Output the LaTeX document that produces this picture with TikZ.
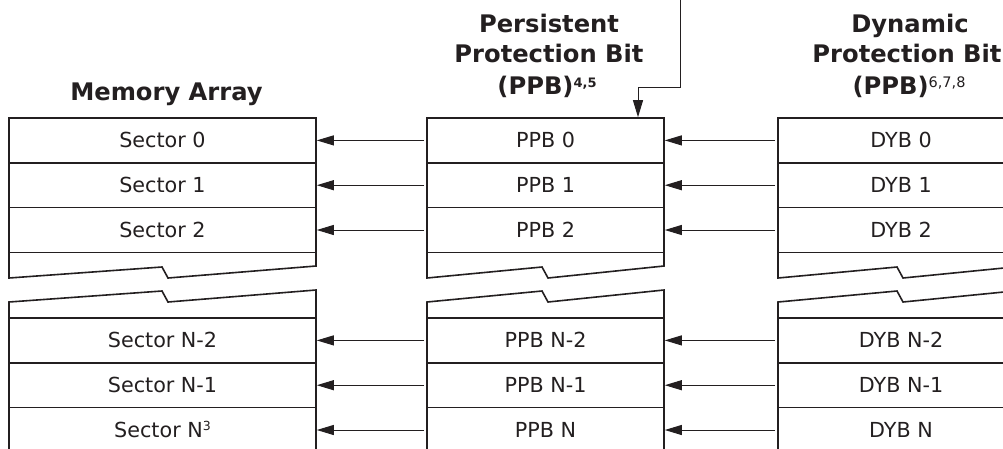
\documentclass[tikz,border=0pt]{standalone}
\usepackage{fontspec}
\setmainfont{DejaVu Sans}
\usetikzlibrary{arrows.meta}
\definecolor{ink}{HTML}{231F20}
\begin{document}
\begin{tikzpicture}[x=1pt,y=-1pt,
  cell/.style={draw=ink, line width=1.6pt, inner sep=0pt, minimum height=44.8pt,
    text height=15pt, text depth=0pt, text=ink, font=\fontsize{20.7}{24}\selectfont},
  colL/.style={cell, minimum width=307pt},
  colM/.style={cell, minimum width=237pt},
  colR/.style={cell, minimum width=246pt},
  head/.style={font=\fontsize{24.2}{30}\selectfont\bfseries, text=ink, anchor=base, inner sep=0pt},
  conn/.style={draw=ink, line width=1pt, -{Triangle[length=17pt,width=10pt]}, shorten <=2pt},
  brk/.style={draw=ink, line width=1.6pt, line join=miter}
]
\useasboundingbox (0,0) rectangle (1003,448);
\clip (0,0) rectangle (1003,448);

% headings
\node[head] (hm) at (166.5,100) {Memory Array};
\node[head] (hp1) at (549,32) {Persistent};
\node[head] (hp2) at (549,62.5) {Protection Bit};
\node[head] (hp3) at (547,94) {(PPB)\raisebox{7pt}{\fontsize{13}{13}\selectfont 4,5}};
\node[head] (hd1) at (910,32) {Dynamic};
\node[head] (hd2) at (907,62.5) {Protection Bit};
\node[head] (hd3) at (909,94) {(PPB)\raisebox{7pt}{\fontsize{14.5}{14.5}\selectfont\mdseries 6,7,8}};

% memory array
\node[colL] (s0) at (162.5,140.4) {Sector 0};
\node[colL] (s1) at (162.5,185.2) {Sector 1};
\node[colL] (s2) at (162.5,230.0) {Sector 2};
\node[colL] (s3) at (162.5,340.4) {Sector N-2};
\node[colL] (s4) at (162.5,385.2) {Sector N-1};
\node[colL] (s5) at (162.5,430.0) {Sector N\raisebox{7pt}{\fontsize{12.5}{12.5}\selectfont 3}};
\draw[brk] (9,252.4) -- (9,278) -- (162,267) -- (168,278) -- (316,266) -- (316,252.4);
\draw[brk] (9,318) -- (9,302) -- (162,291) -- (168,302) -- (316,290) -- (316,318);

% persistent protection bits
\node[colM] (p0) at (545.5,140.4) {PPB 0};
\node[colM] (p1) at (545.5,185.2) {PPB 1};
\node[colM] (p2) at (545.5,230.0) {PPB 2};
\node[colM] (p3) at (545.5,340.4) {PPB N-2};
\node[colM] (p4) at (545.5,385.2) {PPB N-1};
\node[colM] (p5) at (545.5,430.0) {PPB N};
\draw[brk] (427,252.4) -- (427,278) -- (542,267) -- (548,278) -- (664,266) -- (664,252.4);
\draw[brk] (427,318) -- (427,302) -- (542,291) -- (548,302) -- (664,290) -- (664,318);

% dynamic protection bits
\node[colR] (d0) at (901,140.4) {DYB 0};
\node[colR] (d1) at (901,185.2) {DYB 1};
\node[colR] (d2) at (901,230.0) {DYB 2};
\node[colR] (d3) at (901,340.4) {DYB N-2};
\node[colR] (d4) at (901,385.2) {DYB N-1};
\node[colR] (d5) at (901,430.0) {DYB N};
\draw[brk] (778,252.4) -- (778,278) -- (897,267) -- (903,278) -- (1024,266) -- (1024,252.4);
\draw[brk] (778,318) -- (778,302) -- (897,291) -- (903,302) -- (1024,290) -- (1024,318);

% connectors
\foreach \i in {0,...,5}{
  \draw[conn] (d\i.west) -- (p\i.east);
  \draw[conn] (p\i.west) -- (s\i.east);
}
\coordinate (src) at (680,-2);
\coordinate (bend) at (638,87);
\draw[conn, shorten <=0pt] (src) |- (bend) -- (bend |- p0.north);
\end{tikzpicture}
\end{document}
